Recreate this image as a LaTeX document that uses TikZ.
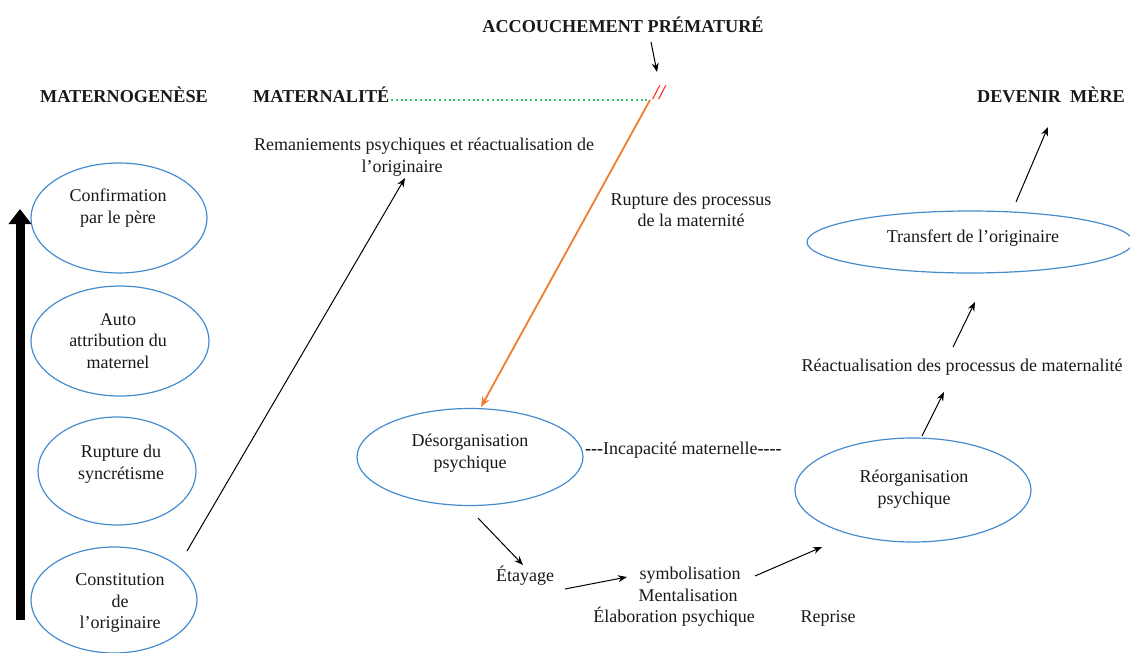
\documentclass[tikz,border=0pt]{standalone}
\usepackage{fontspec}
\setmainfont{Liberation Serif}
\usetikzlibrary{shapes.geometric,arrows.meta}
\definecolor{eblue}{RGB}{68,140,206}
\definecolor{orng}{RGB}{237,125,49}
\definecolor{dgreen}{RGB}{50,195,110}
\definecolor{txt}{RGB}{25,25,25}
\begin{document}
\begin{tikzpicture}[x=1pt,y=-1pt,
  oval/.style={ellipse, draw=eblue, line width=1.2pt, inner sep=0pt},
  lbl/.style={inner sep=0pt, align=center, text=txt, font=\fontsize{18}{21.5}\selectfont},
  head/.style={inner sep=0pt, text=txt, font=\fontsize{18.2}{21}\selectfont\bfseries},
  arr/.style={-{Stealth[length=9pt,width=7pt]}, line width=1pt},
]
\useasboundingbox (0,0) rectangle (1130,653);

% headings
\node[head] (acc) at (623,25) {ACCOUCHEMENT PRÉMATURÉ};
\node[head] (mgen) at (124,95) {MATERNOGENÈSE};
\node[head, anchor=west] (mat) at (253,95) {MATERNALITÉ};
\node[head] (dev) at (1051,95) {DEVENIR\ \ MÈRE};
\node[inner sep=0pt, text=red, font=\fontsize{21}{21}\selectfont\itshape] (brk) at (659,93) {//};

% dotted line and break
\coordinate (dl0) at (391,99.5);
\coordinate (dl1) at (650,99.5);
\draw[dgreen, line width=2pt, dash pattern=on 2pt off 2.8pt] (dl0) -- (dl1);
\coordinate (a0) at (651,42);
\coordinate (a1) at (657,72);
\draw[arr] (a0) -- (a1);

% left column
\node[oval, minimum width=176pt, minimum height=110pt] (e1) at (119,218) {};
\node[lbl] (t1) at (118,208) {Confirmation\\par le père};
\node[oval, minimum width=178pt, minimum height=110pt] (e2) at (120,341) {};
\node[lbl] (t2) at (118,341) {Auto\\attribution du\\maternel};
\node[oval, minimum width=158pt, minimum height=108pt] (e3) at (117,471) {};
\node[lbl] (t3) at (121,464) {Rupture du\\syncrétisme};
\node[oval, minimum width=166pt, minimum height=106pt] (e4) at (114,600) {};
\node[lbl] (t4) at (120,603) {Constitution\\de\\l’originaire};

\coordinate (th0) at (20,620);
\coordinate (th1) at (20,209);
\draw[line width=9pt, -{Triangle[length=15pt,width=22pt]}] (th0) -- (th1);

% maternalité
\node[lbl] (rem) at (424,157) {Remaniements psychiques et réactualisation de\\l’originaire\hspace*{44pt}};
\coordinate (r0) at (187,551);
\coordinate (r1) at (405,178);
\draw[arr] (r0) -- (r1);

\node[lbl] (rup) at (691,210) {Rupture des processus\\de la maternité};
\coordinate (o0) at (650,100);
\coordinate (o1) at (481,407);
\draw[orng, line width=1.8pt, -{Stealth[length=10pt,width=8pt]}] (o0) -- (o1);

% centre
\node[oval, minimum width=226pt, minimum height=97pt] (e5) at (470,457) {};
\node[lbl] (t5) at (470,453) {Désorganisation\\psychique};
\node[lbl, anchor=west] (inc) at (585,450) {\textbf{-{}-{}-}Incapacité maternelle\textbf{-{}-{}-{}-}};

\node[lbl] (eta) at (525,576) {Étayage};
\node[lbl] (sym) at (674,597) {\hspace*{32pt}symbolisation\\\hspace*{28pt}Mentalisation\\Élaboration psychique};
\node[lbl] (rep) at (828,618) {Reprise};
\coordinate (d0) at (478,518);
\coordinate (d1) at (523,565);
\draw[arr] (d0) -- (d1);
\coordinate (s0) at (565,589);
\coordinate (s1) at (627,577);
\draw[arr] (s0) -- (s1);
\coordinate (m0) at (755,576);
\coordinate (m1) at (822,547);
\draw[arr] (m0) -- (m1);

% right
\node[oval, minimum width=236pt, minimum height=104pt] (e6) at (913,490) {};
\node[lbl] (t6) at (914,489) {Réorganisation\\psychique};
\node[lbl] (rea) at (962,367) {Réactualisation des processus de maternalité};
\node[oval, minimum width=326pt, minimum height=62pt] (e7) at (970,242) {};
\node[lbl] (t7) at (973,238) {Transfert de l’originaire};

\coordinate (g0) at (922,436);
\coordinate (g1) at (944,392);
\draw[arr] (g0) -- (g1);
\coordinate (h0) at (953,347);
\coordinate (h1) at (975,302);
\draw[arr] (h0) -- (h1);
\coordinate (k0) at (1016,202);
\coordinate (k1) at (1048,127);
\draw[arr] (k0) -- (k1);
\end{tikzpicture}
\end{document}
